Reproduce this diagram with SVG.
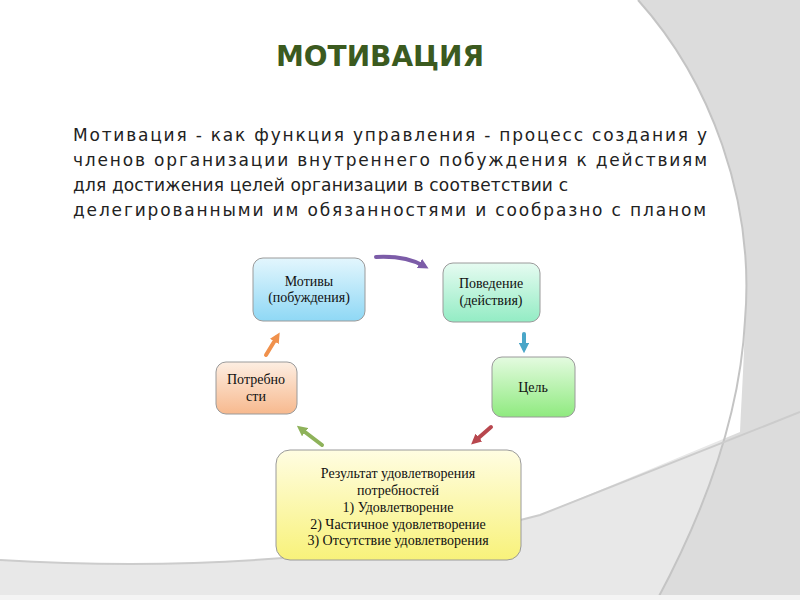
<svg xmlns="http://www.w3.org/2000/svg" width="800" height="600" viewBox="0 0 800 600">
<defs>
<linearGradient id="gB" x1="0" y1="0" x2="0" y2="1"><stop offset="0" stop-color="#e3f6fd"/><stop offset="1" stop-color="#8fd8f5"/></linearGradient>
<linearGradient id="gT" x1="0" y1="0" x2="0" y2="1"><stop offset="0" stop-color="#e6fbf1"/><stop offset="1" stop-color="#93ecc4"/></linearGradient>
<linearGradient id="gG" x1="0" y1="0" x2="0" y2="1"><stop offset="0" stop-color="#e4fbe0"/><stop offset="1" stop-color="#8fea7f"/></linearGradient>
<linearGradient id="gO" x1="0" y1="0" x2="0" y2="1"><stop offset="0" stop-color="#fdeee2"/><stop offset="1" stop-color="#f7b98e"/></linearGradient>
<linearGradient id="gY" x1="0" y1="0" x2="0" y2="1"><stop offset="0" stop-color="#fffde2"/><stop offset="1" stop-color="#f8f27a"/></linearGradient>
<marker id="ah" viewBox="0 0 10 10" refX="5" refY="5" markerWidth="2.6" markerHeight="2.6" orient="auto"><path d="M0,0 L10,5 L0,10 Z" fill="context-stroke"/></marker>
</defs>
<style>
.box{stroke:#9a9a9a;stroke-width:1}
.t{font-family:"Liberation Serif",serif;font-size:14px;fill:#111;text-anchor:middle}
.p{font-family:"DejaVu Sans",sans-serif;font-size:17px;fill:#222}
.c{fill:none;stroke-width:4;stroke-linecap:round}
</style>
<rect width="800" height="600" fill="#e8e8e8"/>
<path d="M638,0 C710,80 755,200 745,320 C740,420 700,520 657,600 L800,600 L800,0 Z" fill="#dcdcdc"/>
<path d="M0,0 L638,0 C710,80 755,200 745,320 C744,360 742,390 740,432 L540,515 Q300,578 0,560 Z" fill="#ffffff"/>
<path d="M638,0 C710,80 755,200 745,320 C740,420 700,520 657,600" fill="none" stroke="#c4c4c4" stroke-width="2"/>
<path d="M0,560 Q300,578 540,515 L800,412" fill="none" stroke="#cccccc" stroke-width="2"/>
<rect x="0" y="595" width="800" height="5" fill="#f4f4f4"/>
<text x="380" y="66" text-anchor="middle" font-family="DejaVu Sans,sans-serif" font-weight="bold" font-size="28" fill="#3b5a1f">МОТИВАЦИЯ</text>
<text class="p" x="73" y="141" textLength="634">Мотивация - как функция управления - процесс создания у</text>
<text class="p" x="73" y="166" textLength="634">членов организации внутреннего побуждения к действиям</text>
<text class="p" x="73" y="191" textLength="495">для достижения целей организации в соответствии с</text>
<text class="p" x="73" y="216" textLength="633">делегированными им обязанностями и сообразно с планом</text>
<g id="connectors">
<path class="c" stroke="#7c5ca8" d="M376,257 C395,256 410,258 424,266" marker-end="url(#ah)"/>
<path class="c" stroke="#4aa6c8" d="M524,334 L524,348" marker-end="url(#ah)"/>
<path class="c" stroke="#b8474e" d="M491,427 L475,441" marker-end="url(#ah)"/>
<path class="c" stroke="#8eb25a" d="M322,445 L301,429" marker-end="url(#ah)"/>
<path class="c" stroke="#f0914c" d="M266,355 L277,337" marker-end="url(#ah)"/>
</g>
<g id="n-motivy"><rect class="box" x="253" y="258" width="112" height="63" rx="10" fill="url(#gB)"/><text class="t" x="309" y="286">Мотивы</text><text class="t" x="309" y="302">(побуждения)</text></g>
<g id="n-povedenie"><rect class="box" x="443" y="263" width="97" height="59" rx="10" fill="url(#gT)"/><text class="t" x="491" y="288">Поведение</text><text class="t" x="491" y="305">(действия)</text></g>
<g id="n-cel"><rect class="box" x="492" y="357" width="83" height="60" rx="10" fill="url(#gG)"/><text class="t" x="533" y="392">Цель</text></g>
<g id="n-potrebnosti"><rect class="box" x="216" y="362" width="81" height="52" rx="10" fill="url(#gO)"/><text class="t" x="256" y="384">Потребно</text><text class="t" x="256" y="401">сти</text></g>
<g id="n-result"><rect class="box" x="276" y="450" width="245" height="110" rx="14" fill="url(#gY)"/>
<text class="t" x="398" y="478">Результат удовлетворения</text>
<text class="t" x="398" y="495">потребностей</text>
<text class="t" x="398" y="512">1) Удовлетворение</text>
<text class="t" x="398" y="529">2) Частичное удовлетворение</text>
<text class="t" x="398" y="545">3) Отсутствие удовлетворения</text></g>
</svg>
